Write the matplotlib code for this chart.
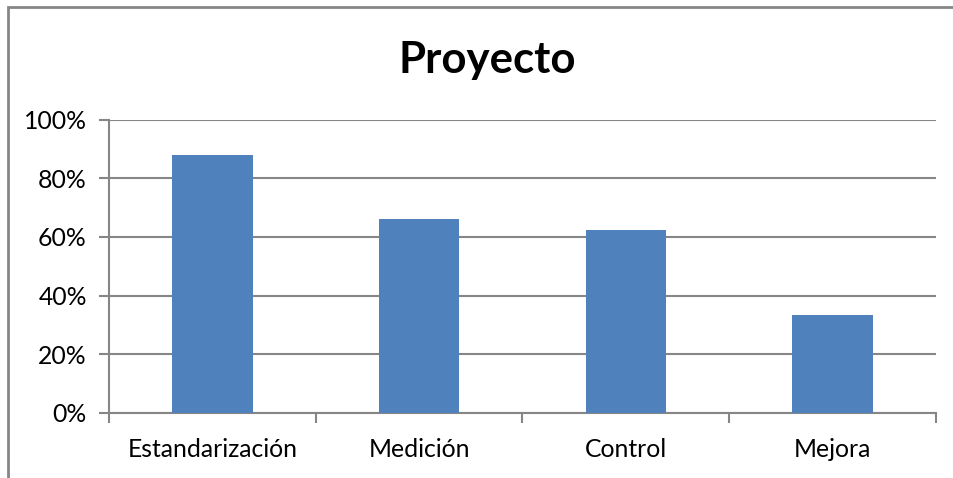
import matplotlib
matplotlib.use("Agg")
import matplotlib.pyplot as plt
from matplotlib.patches import Rectangle
from matplotlib.ticker import PercentFormatter, FixedLocator, NullFormatter

categories = ["Estandarización", "Medición", "Control", "Mejora"]
values = [0.88, 0.662, 0.623, 0.334]
title = "Proyecto"

plt.rcParams['font.family'] = ['Lato', 'DejaVu Sans']

W, H = 954, 478
fig = plt.figure(figsize=(W / 100, H / 100), dpi=100)
ax = fig.add_axes([109 / W, 1 - 413 / H, (936 - 109) / W, (413 - 119.5) / H])

grey = "#868686"
x = list(range(len(categories)))
ax.bar(x, values, width=0.39, color="#4F81BD", zorder=3)
ax.set_xlim(-0.5, len(categories) - 0.5)
ax.set_ylim(0, 1)
ax.set_yticks([0, 0.2, 0.4, 0.6, 0.8, 1.0])
ax.yaxis.set_major_formatter(PercentFormatter(1.0, decimals=0))
ax.yaxis.grid(True, color=grey, linewidth=1.5, zorder=0)

ax.set_xticks(x)
ax.set_xticklabels(categories)
ax.tick_params(axis='x', which='major', length=0, pad=18, labelsize=17.8)
ax.xaxis.set_minor_locator(FixedLocator([i - 0.5 for i in range(len(categories) + 1)]))
ax.xaxis.set_minor_formatter(NullFormatter())
ax.tick_params(axis='x', which='minor', length=7, width=1.5, color=grey)
ax.tick_params(axis='y', length=7, width=1.5, color=grey, pad=9, labelsize=17.8)

for s in ["top", "right"]:
    ax.spines[s].set_visible(False)
for s in ["left", "bottom"]:
    ax.spines[s].set_color(grey)
    ax.spines[s].set_linewidth(1.5)

fig.text(487 / W, 1 - 60 / H, title, ha="center", va="center",
         fontsize=31.5, fontweight="bold")

fig.patches.append(Rectangle((8.5 / W, -0.1), 1.2, 1 - 7 / H + 0.1,
                             transform=fig.transFigure, fill=False,
                             edgecolor=grey, linewidth=2, clip_on=False))

fig.savefig("out.png", dpi=100)
